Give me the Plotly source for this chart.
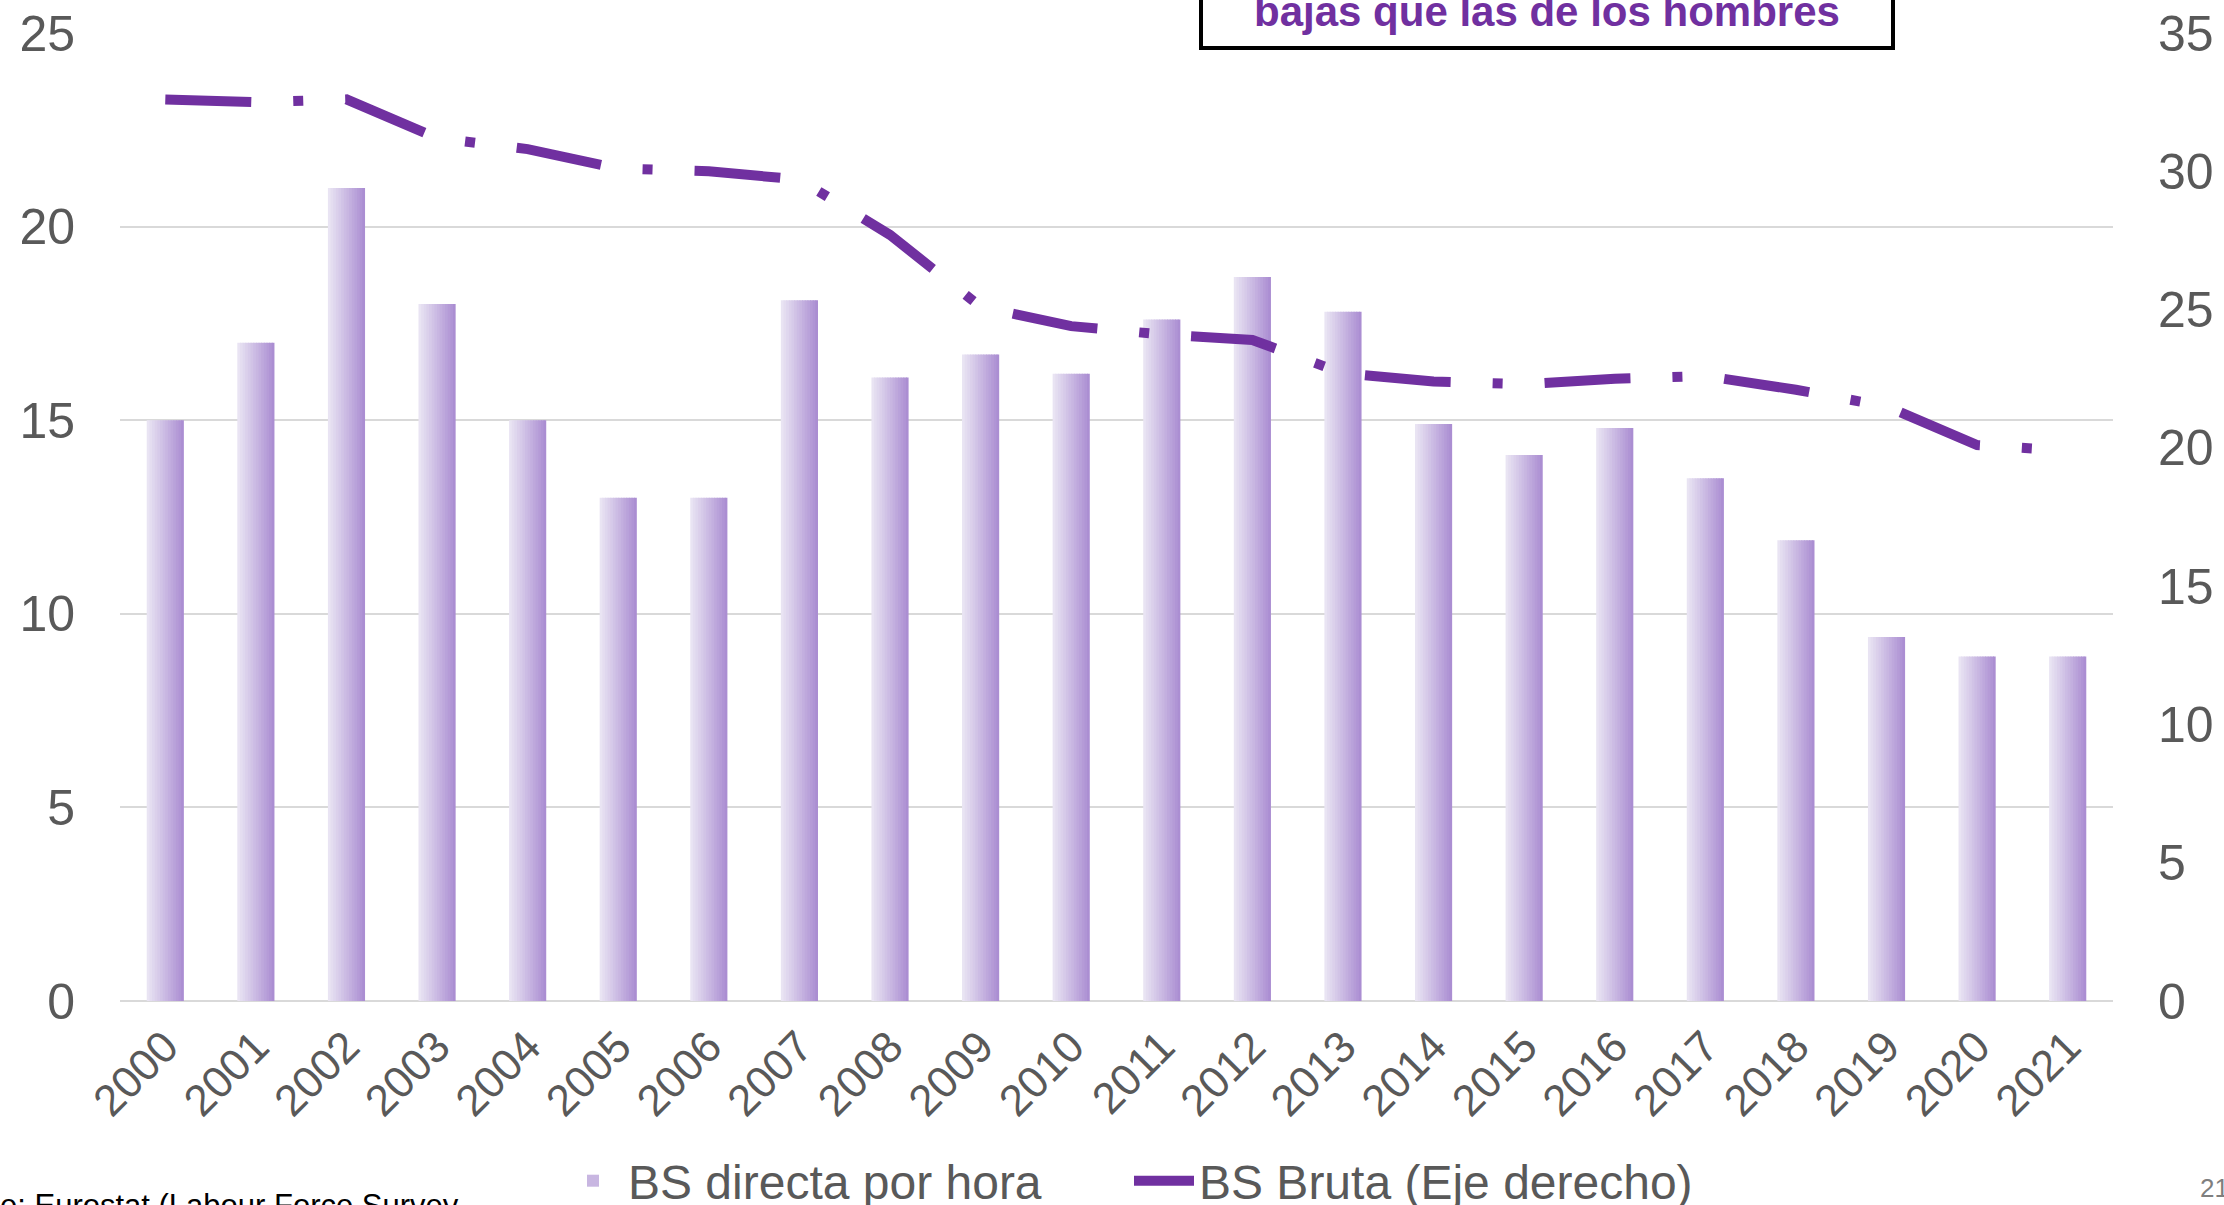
import plotly.graph_objects as go

# ---- data ----
years = [str(y) for y in range(2000, 2022)]
bs_directa = [15, 17, 21, 18, 15, 13, 13, 18.1, 16.1, 16.7, 16.2, 17.6, 18.7, 17.8,
              14.9, 14.1, 14.8, 13.5, 11.9, 9.4, 8.9, 8.9]
bs_bruta = [32.6, 32.5, 32.6, 31.2, 30.8, 30.1, 30.0, 29.7, 27.7, 25.1, 24.4, 24.1,
            23.9, 22.7, 22.4, 22.3, 22.5, 22.6, 22.1, 21.5, 20.1, 19.9]
left_ticks = [0, 5, 10, 15, 20, 25]
right_ticks = [0, 5, 10, 15, 20, 25, 30, 35]

FONT = "Liberation Sans, Arial, sans-serif"
GREY = "#595959"
PURPLE = "#7030A0"

W, H = 2224, 1205
ML, MR, MT, MB = 120, 111, 33, 204
PW = W - ML - MR
PH = H - MT - MB


def px_to_paper_x(px):
    return (px - ML) / PW


def px_to_paper_y(py):
    return (H - MB - py) / PH


fig = go.Figure()

# gradient bars built from vertical stripes (same data, overlaid)
n = 14
bar_w = 0.41
sw = bar_w / n
c0 = (0xE9, 0xE4, 0xF3)
c1 = (0xAB, 0x8E, 0xD2)
for i in range(n):
    t = i / (n - 1)
    col = "rgb({},{},{})".format(*[round(a + (b - a) * t) for a, b in zip(c0, c1)])
    off = -bar_w / 2 + i * sw
    w = sw * 1.35 if i < n - 1 else sw
    fig.add_trace(go.Bar(
        x=years, y=bs_directa, offset=off, width=w,
        marker=dict(color=col, line=dict(width=0)),
        name="BS directa por hora",
        showlegend=(i == n // 2),
        legendrank=1,
        hoverinfo="skip" if i != n // 2 else None,
    ))

fig.add_trace(go.Scatter(
    x=years, y=bs_bruta, yaxis="y2", mode="lines",
    name="BS Bruta (Eje derecho)",
    line=dict(color=PURPLE, width=10, dash="86px,42px,10px,42px"),
    legendrank=2,
))

fig.update_layout(
    width=W, height=H,
    margin=dict(l=ML, r=MR, t=MT, b=MB, pad=0, autoexpand=False),
    paper_bgcolor="white", plot_bgcolor="white",
    barmode="overlay",
    font=dict(family=FONT, color=GREY),
    showlegend=True,
    legend=dict(
        orientation="h", x=px_to_paper_x(1129), xanchor="center",
        y=px_to_paper_y(1181), yanchor="middle",
        font=dict(size=48, color=GREY, family=FONT),
        bgcolor="rgba(0,0,0,0)", itemwidth=60, entrywidth=496,
        traceorder="normal",
    ),
    xaxis=dict(
        type="category", tickangle=-45, showgrid=False, showline=False,
        ticks="", tickfont=dict(size=44, color=GREY, family=FONT),
        ticklabelstandoff=10, automargin=False,
    ),
    yaxis=dict(
        range=[0, 25], tickvals=left_ticks, showgrid=True,
        gridcolor="#D9D9D9", gridwidth=2, zeroline=True,
        zerolinecolor="#D9D9D9", zerolinewidth=2, showline=False,
        ticks="", tickfont=dict(size=50, color=GREY, family=FONT),
        ticklabelstandoff=44, automargin=False,
    ),
    yaxis2=dict(
        range=[0, 35], tickvals=right_ticks, overlaying="y", side="right",
        showgrid=False, zeroline=False, showline=False, ticks="",
        tickfont=dict(size=50, color=GREY, family=FONT),
        ticklabelstandoff=44, automargin=False,
    ),
)

# call-out box at the top (partially cropped in the original)
fig.add_shape(
    type="rect", xref="paper", yref="paper",
    x0=px_to_paper_x(1201), x1=px_to_paper_x(1893),
    y0=px_to_paper_y(48), y1=px_to_paper_y(-20),
    line=dict(color="black", width=4), fillcolor="white", layer="above",
)
fig.add_annotation(
    xref="paper", yref="paper",
    x=px_to_paper_x(1547), y=px_to_paper_y(12), xanchor="center", yanchor="middle",
    text="<b>bajas que las de los hombres</b>", showarrow=False,
    font=dict(size=42, color=PURPLE, family=FONT),
)

# source note (cropped at the left in the original)
fig.add_annotation(
    xref="paper", yref="paper",
    x=px_to_paper_x(-2), y=px_to_paper_y(1186), xanchor="left", yanchor="top",
    text="e: Eurostat (Labour Force Survey", showarrow=False,
    font=dict(size=31, color="black", family=FONT),
)

# page number (cropped at the right)
fig.add_annotation(
    xref="paper", yref="paper",
    x=px_to_paper_x(2198), y=px_to_paper_y(1188), xanchor="left", yanchor="middle",
    text="21", showarrow=False,
    font=dict(size=26, color="#7F7F7F", family=FONT),
)

fig.write_html(
    "out.html",
    config={"displayModeBar": False},
    post_script="document.body.style.margin='0';document.documentElement.style.margin='0';",
)
